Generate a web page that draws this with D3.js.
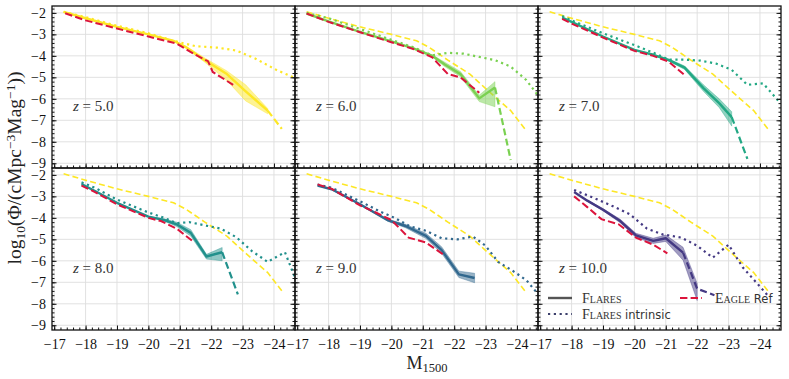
<!DOCTYPE html>
<html>
<head>
<meta charset="utf-8">
<script src="https://cdn.jsdelivr.net/npm/d3@7"></script>
<style>
  body { margin: 0; background: #fff; }
  text { font-family: "Liberation Serif", "DejaVu Serif", serif; }
</style>
</head>
<body>
<svg id="chart" width="789" height="379"></svg>
<script>
// ---- data ----
const redshifts = [5, 6, 7, 8, 9, 10];
const zColors = ['#fde725', '#7ad151', '#22a884', '#21918c', '#31688e', '#443983'];
const xTicks = [-17, -18, -19, -20, -21, -22, -23, -24];
const yTicks = [-2, -3, -4, -5, -6, -7, -8, -9];

// FLARES (observed) luminosity function per redshift
const flaresMag = [
  [-17.3, -18.0, -19.0, -20.0, -20.8, -21.2, -21.8, -22.5, -23.1, -23.8, -24.25],
  [-17.3, -18.0, -19.0, -20.0, -20.7, -21.3, -21.7, -22.2, -22.8, -23.3, -23.8],
  [-17.7, -18.0, -19.0, -20.0, -20.6, -21.1, -21.6, -22.2, -22.7, -23.1, -23.6],
  [-17.87, -18.3, -19.0, -20.0, -20.5, -20.9, -21.35, -21.85, -22.35, -22.85],
  [-17.65, -18.1, -19.0, -19.9, -20.45, -21.1, -21.6, -22.15, -22.65],
  [-18.08, -18.5, -19.0, -19.55, -20.05, -20.6, -21.0, -21.55, -22.0, -22.55]
];
const flaresPhi = [
  [-1.95, -2.25, -2.65, -3.0, -3.3, -3.6, -4.2, -4.85, -5.65, -6.55, -7.4],
  [-2.03, -2.4, -2.88, -3.33, -3.65, -4.0, -4.4, -4.85, -5.98, -5.47, -8.85],
  [-2.22, -2.42, -3.1, -3.72, -3.95, -4.2, -4.55, -5.5, -6.2, -6.85, -8.8],
  [-2.43, -2.75, -3.3, -3.94, -4.1, -4.3, -4.7, -5.8, -5.6, -7.56],
  [-2.5, -2.67, -3.37, -4.12, -4.38, -4.84, -5.5, -6.63, -6.8],
  [-2.8, -3.2, -3.62, -4.15, -4.82, -5.07, -4.95, -5.62, -7.3, -7.6]
];
// lower / upper uncertainty of the shaded band (dex)
const flaresErrLo = [
  [0, 0, 0, 0, 0.03, 0.05, 0.1, 0.3, 0.45, 0.15],
  [0, 0, 0, 0, 0.03, 0.05, 0.1, 0.12, 0.15, 0.9],
  [0, 0, 0, 0, 0.03, 0.05, 0.08, 0.15, 0.2, 0.42],
  [0, 0, 0, 0, 0.05, 0.1, 0.15, 0.12, 0.4],
  [0, 0.03, 0.03, 0.05, 0.08, 0.12, 0.15, 0.15, 0.22],
  [0, 0.03, 0.05, 0.08, 0.1, 0.12, 0.15, 0.35, 0.55]
];
const flaresErrHi = [
  [0, 0, 0, 0, 0.03, 0.05, 0.1, 0.15, 0.3, 0.1],
  [0, 0, 0, 0, 0.03, 0.05, 0.1, 0.12, 0.15, 0.27],
  [0, 0, 0, 0, 0.03, 0.05, 0.08, 0.15, 0.2, 0.25],
  [0, 0, 0, 0, 0.05, 0.1, 0.15, 0.1, 0.22],
  [0, 0.03, 0.03, 0.05, 0.08, 0.12, 0.15, 0.15, 0.22],
  [0, 0.03, 0.05, 0.08, 0.1, 0.12, 0.15, 0.25, 0.25]
];
// last bin drawn solid; later bins are dashed (few galaxies)
const flaresSolidEnd = [9, 9, 9, 8, 8, 7];

// FLARES intrinsic (dust free)
const intrinsicMag = [
  [-17.3, -18.0, -19.0, -20.0, -20.8, -21.5, -22.2, -22.8, -23.4, -24.1, -24.7],
  [-17.3, -18.0, -19.0, -20.0, -20.7, -21.3, -21.8, -22.3, -22.8, -23.3, -23.8, -24.3, -24.7],
  [-17.7, -18.0, -19.0, -20.0, -20.6, -21.1, -21.6, -22.1, -22.6, -23.1, -23.6, -24.1, -24.65],
  [-17.87, -18.3, -19.0, -20.0, -20.5, -20.9, -21.3, -21.8, -22.3, -22.8, -23.3, -23.8, -24.35, -24.7],
  [-17.65, -18.1, -18.6, -19.1, -19.6, -20.1, -20.6, -21.1, -21.6, -22.1, -22.6, -23.0, -23.4, -23.9, -24.3, -24.7],
  [-18.08, -18.8, -19.3, -19.85, -20.4, -20.9, -21.5, -22.0, -22.5, -23.0, -23.45, -24.0, -24.3]
];
const intrinsicPhi = [
  [-1.95, -2.2, -2.6, -2.95, -3.3, -3.55, -3.62, -3.75, -4.12, -4.67, -5.05],
  [-2.0, -2.25, -2.75, -3.25, -3.6, -3.98, -3.86, -3.9, -4.05, -4.2, -4.5, -5.13, -5.9],
  [-2.15, -2.35, -2.95, -3.5, -3.85, -4.18, -4.18, -4.22, -4.36, -4.65, -5.35, -5.28, -6.2],
  [-2.35, -2.6, -3.15, -3.75, -4.0, -4.25, -4.2, -4.35, -4.5, -4.9, -5.55, -6.05, -5.6, -6.9],
  [-2.45, -2.6, -2.95, -3.3, -3.68, -4.0, -4.4, -4.6, -4.95, -5.0, -4.87, -5.3, -6.05, -6.5, -6.9, -7.6],
  [-2.7, -3.13, -3.45, -3.83, -4.5, -4.77, -4.92, -5.3, -5.85, -5.25, -6.3, -7.2, -7.7]
];

// EAGLE Ref
const eagleMag = [
  [-17.35, -18.0, -19.0, -20.0, -20.9, -21.5, -21.9, -22.05, -22.7],
  [-17.3, -18.0, -19.0, -20.0, -20.7, -21.3, -21.8, -22.2, -22.8],
  [-17.7, -18.0, -19.0, -20.0, -20.6, -21.1, -21.6],
  [-17.87, -18.3, -19.0, -20.0, -20.4, -20.9, -21.4],
  [-17.65, -18.1, -19.0, -19.5, -20.0, -20.55, -21.1, -21.65],
  [-18.08, -18.5, -18.95, -19.5, -20.05, -20.6, -21.05]
];
const eaglePhi = [
  [-2.02, -2.35, -2.73, -3.1, -3.43, -3.95, -4.25, -4.75, -5.35],
  [-2.03, -2.42, -2.9, -3.37, -3.68, -4.07, -4.85, -5.0, -5.72],
  [-2.28, -2.5, -3.15, -3.77, -4.0, -4.28, -4.9],
  [-2.5, -2.8, -3.37, -4.0, -4.15, -4.5, -5.07],
  [-2.44, -2.65, -3.42, -3.75, -4.1, -4.92, -5.15, -5.7],
  [-3.0, -3.5, -4.06, -4.3, -4.92, -5.25, -5.65]
];

// ---- layout ----
const panelW = 243, panelH = 162, left0 = 52, top0 = 6;
const eagleColor = '#dc143c';

const svg = d3.select('#chart');
const x = d3.scaleLinear().domain([-16.93, -24.67]).range([0, panelW]);
const y = d3.scaleLinear().domain([-9.22, -1.68]).range([panelH, 0]);

const line = d3.line().x(d => x(d[0])).y(d => y(d[1]));
const band = d3.area().x(d => x(d[0])).y0(d => y(d[1])).y1(d => y(d[2]));

const xMinor = d3.range(0, 39).map(k => -17 - k * 0.2);
const yMinor = d3.range(0, 37).map(k => -2 + 0.2 - k * 0.2).filter(v => v > -9.22 && v < -1.68);

svg.append('defs').append('clipPath').attr('id', 'panelClip')
  .append('rect').attr('width', panelW).attr('height', panelH);

const zip = (a, b) => a.map((v, k) => [v, b[k]]);

redshifts.forEach((z, i) => {
  const col = i % 3, row = Math.floor(i / 3);
  const g = svg.append('g')
    .attr('transform', `translate(${left0 + col * panelW},${top0 + row * panelH})`);

  // grid
  g.append('g').selectAll('line').data(xTicks).join('line')
    .attr('x1', d => x(d)).attr('x2', d => x(d)).attr('y1', 0).attr('y2', panelH)
    .attr('stroke', '#dedede').attr('stroke-width', 0.9);
  g.append('g').selectAll('line').data(yTicks).join('line')
    .attr('y1', d => y(d)).attr('y2', d => y(d)).attr('x1', 0).attr('x2', panelW)
    .attr('stroke', '#dedede').attr('stroke-width', 0.9);

  const plot = g.append('g').attr('clip-path', 'url(#panelClip)');
  const color = zColors[i];

  // z = 5 reference curve in the other panels
  if (i > 0) {
    plot.append('path')
      .attr('d', line(zip(flaresMag[0], flaresPhi[0])))
      .attr('fill', 'none').attr('stroke', zColors[0]).attr('stroke-width', 1.6)
      .attr('stroke-dasharray', '6,3.2');
  }

  // uncertainty band
  const bandPts = flaresErrLo[i].map((lo, k) =>
    [flaresMag[i][k], flaresPhi[i][k] - lo, flaresPhi[i][k] + flaresErrHi[i][k]]);
  plot.append('path').attr('d', band(bandPts))
    .attr('fill', color).attr('fill-opacity', 0.5)
    .attr('stroke', color).attr('stroke-opacity', 0.6).attr('stroke-width', 0.6);

  // intrinsic (dotted)
  plot.append('path')
    .attr('d', line(zip(intrinsicMag[i], intrinsicPhi[i])))
    .attr('fill', 'none').attr('stroke', color).attr('stroke-width', 2.2)
    .attr('stroke-dasharray', '2.2,3.6');

  // FLARES solid + dashed tail
  const pts = zip(flaresMag[i], flaresPhi[i]);
  const s = flaresSolidEnd[i];
  plot.append('path').attr('d', line(pts.slice(0, s + 1)))
    .attr('fill', 'none').attr('stroke', color).attr('stroke-width', 2.4)
    .attr('stroke-linejoin', 'round');
  if (s < pts.length - 1) {
    plot.append('path').attr('d', line(pts.slice(s)))
      .attr('fill', 'none').attr('stroke', color).attr('stroke-width', 2.2)
      .attr('stroke-dasharray', '7,3.5');
  }

  // EAGLE Ref
  plot.append('path')
    .attr('d', line(zip(eagleMag[i], eaglePhi[i])))
    .attr('fill', 'none').attr('stroke', eagleColor).attr('stroke-width', 2)
    .attr('stroke-dasharray', '7.4,3.2');

  // axes
  const fmt = d3.format('d');
  g.append('g').attr('transform', `translate(0,${panelH})`)
    .call(d3.axisBottom(x).tickValues(xTicks).tickSizeInner(-4.5).tickSizeOuter(0)
      .tickPadding(9).tickFormat(row === 1 ? fmt : ''));
  g.append('g').attr('transform', `translate(0,${panelH})`)
    .call(d3.axisBottom(x).tickValues(xMinor).tickSizeInner(-2.5).tickSizeOuter(0).tickFormat(''));
  g.append('g')
    .call(d3.axisLeft(y).tickValues(yTicks).tickSizeInner(-4.5).tickSizeOuter(0)
      .tickPadding(6).tickFormat(col === 0 ? fmt : ''));
  g.append('g')
    .call(d3.axisLeft(y).tickValues(yMinor).tickSizeInner(-2.5).tickSizeOuter(0).tickFormat(''));
  g.append('g').attr('transform', `translate(${panelW},0)`)
    .call(d3.axisRight(y).tickValues(yTicks).tickSizeInner(-4.5).tickSizeOuter(0).tickFormat(''));
  g.append('g').attr('transform', `translate(${panelW},0)`)
    .call(d3.axisRight(y).tickValues(yMinor).tickSizeInner(-2.5).tickSizeOuter(0).tickFormat(''));
  g.selectAll('.domain').remove();
  g.selectAll('.tick line').attr('stroke', '#111').attr('stroke-width', 1);
  g.selectAll('.tick text').attr('font-size', 14)
    .attr('font-family', '"Liberation Serif", serif').attr('fill', '#111');

  // frame
  g.append('rect').attr('width', panelW).attr('height', panelH)
    .attr('fill', 'none').attr('stroke', '#111').attr('stroke-width', 1.3);

  // redshift label
  const zt = g.append('text').attr('x', 21).attr('y', 105)
    .attr('font-size', 15).attr('fill', '#333');
  zt.append('tspan').attr('font-style', 'italic').text('z');
  zt.append('tspan').text(' = ' + z.toFixed(1));

  // legend in the last panel
  if (i === redshifts.length - 1) {
    const lg = g.append('g');
    lg.append('line').attr('x1', 10).attr('x2', 34).attr('y1', 130).attr('y2', 130)
      .attr('stroke', '#555').attr('stroke-width', 2.4);
    lg.append('line').attr('x1', 10).attr('x2', 34).attr('y1', 146).attr('y2', 146)
      .attr('stroke', '#3b3f6b').attr('stroke-width', 2.2).attr('stroke-dasharray', '2.2,3.6');
    lg.append('line').attr('x1', 142).attr('x2', 164).attr('y1', 130).attr('y2', 130)
      .attr('stroke', eagleColor).attr('stroke-width', 2).attr('stroke-dasharray', '7.4,3.2');

    const t1 = lg.append('text').attr('x', 44).attr('y', 134.5).attr('font-size', 14).attr('fill', '#333');
    t1.append('tspan').style('font-variant', 'small-caps').text('Flares');
    const t2 = lg.append('text').attr('x', 44).attr('y', 150.5).attr('font-size', 14).attr('fill', '#333');
    t2.append('tspan').style('font-variant', 'small-caps').text('Flares');
    t2.append('tspan').attr('font-family', '"DejaVu Sans", sans-serif').attr('font-size', 11.5).text(' intrinsic');
    const t3 = lg.append('text').attr('x', 177).attr('y', 134.5).attr('font-size', 14).attr('fill', '#333');
    t3.append('tspan').style('font-variant', 'small-caps').text('Eagle');
    t3.append('tspan').attr('font-family', '"DejaVu Sans", sans-serif').attr('font-size', 11.5).text(' Ref');
  }
});

// axis titles
const xl = svg.append('text').attr('x', 427).attr('y', 369).attr('text-anchor', 'middle')
  .attr('font-size', 18).attr('fill', '#222');
xl.append('tspan').text('M');
xl.append('tspan').attr('font-size', 12.5).attr('baseline-shift', '-25%').text('1500');

const yl = svg.append('text').attr('transform', 'translate(21,168) rotate(-90)')
  .attr('text-anchor', 'middle').attr('font-size', 19.5).attr('fill', '#222');
yl.append('tspan').text('log');
yl.append('tspan').attr('font-size', 13.5).attr('baseline-shift', '-25%').text('10');
yl.append('tspan').text('(Φ/(cMpc');
yl.append('tspan').attr('font-size', 13.5).attr('baseline-shift', '45%').text('−3');
yl.append('tspan').text('Mag');
yl.append('tspan').attr('font-size', 13.5).attr('baseline-shift', '45%').text('−1');
yl.append('tspan').text('))');
</script>
</body>
</html>
